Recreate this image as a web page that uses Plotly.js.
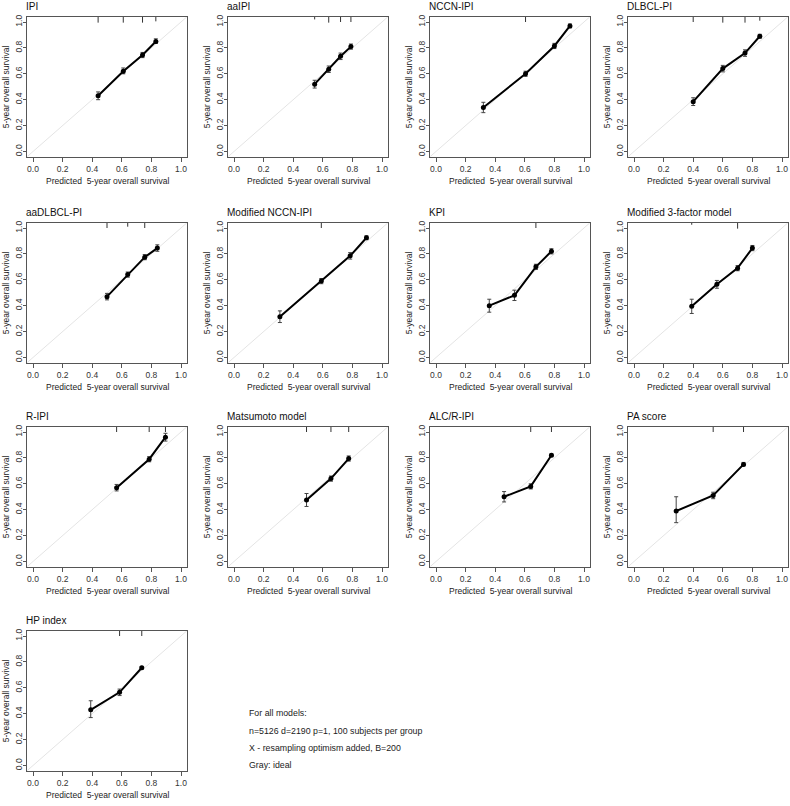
<!DOCTYPE html>
<html><head><meta charset="utf-8">
<script src="https://cdn.plot.ly/plotly-3.0.1.min.js"></script>
<style>html,body{margin:0;padding:0;background:#fff}#chart{width:790px;height:806px}</style>
</head><body><div id="chart"></div>
<script>
// ---------------- data ----------------
const modelNames = ["IPI","aaIPI","NCCN-IPI","DLBCL-PI","aaDLBCL-PI","Modified NCCN-IPI","KPI",
  "Modified 3-factor model","R-IPI","Matsumoto model","ALC/R-IPI","PA score","HP index"];
const tickVals = [0, 0.2, 0.4, 0.6, 0.8, 1.0];
const tickLabels = ["0.0","0.2","0.4","0.6","0.8","1.0"];
const xTitle = "Predicted  5-year overall survival";
const yTitle = "5-year overall survival";
const noteLines = ["For all models:", "n=5126 d=2190 p=1, 100 subjects per group",
  "X - resampling optimism added, B=200", "Gray: ideal"];

const ipiPred = [0.44, 0.61, 0.74, 0.83];
const ipiObs  = [0.43, 0.62, 0.745, 0.85];
const ipiLo   = [0.40, 0.60, 0.725, 0.835];
const ipiHi   = [0.46, 0.645, 0.765, 0.87];
const ipiRug  = [0.44, 0.61, 0.74, 0.83];
const ipiRugLen = [0.045, 0.045, 0.045, 0.035];

const aaipiPred = [0.545, 0.64, 0.72, 0.79];
const aaipiObs  = [0.52, 0.635, 0.735, 0.81];
const aaipiLo   = [0.49, 0.61, 0.71, 0.79];
const aaipiHi   = [0.55, 0.66, 0.76, 0.83];
const aaipiRug  = [0.545, 0.64, 0.72, 0.79];
const aaipiRugLen = [0.02, 0.045, 0.04, 0.04];

const nccnPred = [0.32, 0.605, 0.80, 0.905];
const nccnObs  = [0.34, 0.60, 0.815, 0.97];
const nccnLo   = [0.30, 0.58, 0.795, 0.955];
const nccnHi   = [0.38, 0.62, 0.835, 0.985];
const nccnRug  = [0.605];
const nccnRugLen = [0.04];

const dlbclPred = [0.40, 0.60, 0.75, 0.85];
const dlbclObs  = [0.385, 0.64, 0.76, 0.89];
const dlbclLo   = [0.355, 0.615, 0.735, 0.875];
const dlbclHi   = [0.415, 0.665, 0.785, 0.905];
const dlbclRug  = [0.40, 0.60, 0.75, 0.85];
const dlbclRugLen = [0.04, 0.045, 0.045, 0.03];

const aadlbclPred = [0.50, 0.64, 0.755, 0.84];
const aadlbclObs  = [0.47, 0.64, 0.775, 0.845];
const aadlbclLo   = [0.445, 0.62, 0.755, 0.82];
const aadlbclHi   = [0.495, 0.66, 0.795, 0.87];
const aadlbclRug  = [0.50, 0.64, 0.755];
const aadlbclRugLen = [0.04, 0.03, 0.04];

const mnccnPred = [0.31, 0.59, 0.785, 0.895];
const mnccnObs  = [0.315, 0.59, 0.785, 0.925];
const mnccnLo   = [0.27, 0.57, 0.76, 0.91];
const mnccnHi   = [0.36, 0.61, 0.81, 0.94];
const mnccnRug  = [0.59];
const mnccnRugLen = [0.04];

const kpiPred = [0.36, 0.53, 0.675, 0.78];
const kpiObs  = [0.40, 0.48, 0.70, 0.82];
const kpiLo   = [0.35, 0.44, 0.68, 0.80];
const kpiHi   = [0.45, 0.52, 0.72, 0.84];
const kpiRug  = [0.675];
const kpiRugLen = [0.04];

const m3fPred = [0.39, 0.56, 0.70, 0.80];
const m3fObs  = [0.395, 0.565, 0.69, 0.845];
const m3fLo   = [0.34, 0.535, 0.67, 0.825];
const m3fHi   = [0.45, 0.595, 0.71, 0.865];
const m3fRug  = [0.39, 0.70];
const m3fRugLen = [0.015, 0.045];

const ripiPred = [0.565, 0.785, 0.895];
const ripiObs  = [0.57, 0.79, 0.96];
const ripiLo   = [0.545, 0.77, 0.93];
const ripiHi   = [0.595, 0.81, 0.99];
const ripiRug  = [0.565, 0.785, 0.895];
const ripiRugLen = [0.04, 0.04, 0.04];

const matsuPred = [0.49, 0.655, 0.775];
const matsuObs  = [0.475, 0.64, 0.795];
const matsuLo   = [0.425, 0.62, 0.775];
const matsuHi   = [0.525, 0.66, 0.815];
const matsuRug  = [0.49, 0.655, 0.775];
const matsuRugLen = [0.04, 0.04, 0.04];

const alcPred = [0.46, 0.64, 0.78];
const alcObs  = [0.50, 0.58, 0.82];
const alcLo   = [0.46, 0.56, 0.81];
const alcHi   = [0.54, 0.60, 0.83];
const alcRug  = [0.64, 0.78];
const alcRugLen = [0.04, 0.04];

const paPred = [0.285, 0.535, 0.74];
const paObs  = [0.39, 0.51, 0.75];
const paLo   = [0.30, 0.485, 0.74];
const paHi   = [0.50, 0.535, 0.765];
const paRug  = [0.535, 0.74];
const paRugLen = [0.04, 0.04];

const hpPred = [0.39, 0.585, 0.735];
const hpObs  = [0.43, 0.565, 0.755];
const hpLo   = [0.37, 0.54, 0.745];
const hpHi   = [0.50, 0.59, 0.765];
const hpRug  = [0.585, 0.735];
const hpRugLen = [0.04, 0.04];

const panelData = [
  [ipiPred, ipiObs, ipiLo, ipiHi, ipiRug, ipiRugLen],
  [aaipiPred, aaipiObs, aaipiLo, aaipiHi, aaipiRug, aaipiRugLen],
  [nccnPred, nccnObs, nccnLo, nccnHi, nccnRug, nccnRugLen],
  [dlbclPred, dlbclObs, dlbclLo, dlbclHi, dlbclRug, dlbclRugLen],
  [aadlbclPred, aadlbclObs, aadlbclLo, aadlbclHi, aadlbclRug, aadlbclRugLen],
  [mnccnPred, mnccnObs, mnccnLo, mnccnHi, mnccnRug, mnccnRugLen],
  [kpiPred, kpiObs, kpiLo, kpiHi, kpiRug, kpiRugLen],
  [m3fPred, m3fObs, m3fLo, m3fHi, m3fRug, m3fRugLen],
  [ripiPred, ripiObs, ripiLo, ripiHi, ripiRug, ripiRugLen],
  [matsuPred, matsuObs, matsuLo, matsuHi, matsuRug, matsuRugLen],
  [alcPred, alcObs, alcLo, alcHi, alcRug, alcRugLen],
  [paPred, paObs, paLo, paHi, paRug, paRugLen],
  [hpPred, hpObs, hpLo, hpHi, hpRug, hpRugLen]
];

// ---------------- layout geometry ----------------
const W = 790, H = 806;
const colX0 = [33, 234, 436, 634];   // pixel of x = 0
const unitX = 148;
const rowY1 = [22, 228, 432, 636];   // pixel of y = 1
const unitY = 129.5;
const ext = 0.04;
const FONT = "Liberation Sans, Arial, Helvetica, sans-serif";
const boxColor = "#555";

const traces = [];
const layout = {
  width: W, height: H, margin: {l: 0, r: 0, t: 0, b: 0},
  paper_bgcolor: "#fff", plot_bgcolor: "#fff", showlegend: false,
  font: {family: FONT, color: "#222"},
  annotations: []
};

modelNames.forEach((name, i) => {
  const [pred, obs, lo, hi, rug, rugLen] = panelData[i];
  const r = Math.floor(i / 4), c = i % 4;
  const sfx = i === 0 ? "" : String(i + 1);
  const xa = "x" + sfx, ya = "y" + sfx;
  const left = colX0[c] - ext * unitX, right = colX0[c] + (1 + ext) * unitX;
  const top = rowY1[r] - ext * unitY, bottom = rowY1[r] + (1 + ext) * unitY;

  const axCommon = {
    range: [-ext, 1 + ext], tickvals: tickVals, ticktext: tickLabels,
    showgrid: false, zeroline: false, showline: true, mirror: true,
    linecolor: boxColor, linewidth: 1, ticks: "outside", ticklen: 4,
    tickcolor: boxColor, tickwidth: 1, ticklabeloverflow: "allow",
    tickfont: {family: FONT, size: 8.5, color: "#333"}, fixedrange: true
  };
  layout["xaxis" + sfx] = Object.assign({}, axCommon, {domain: [left / W, right / W], anchor: ya});
  layout["yaxis" + sfx] = Object.assign({}, axCommon, {domain: [1 - bottom / H, 1 - top / H], anchor: xa,
    tickangle: -90, ticklen: 3, ticklabelstandoff: -2});

  // ideal line
  traces.push({x: [-ext, 1 + ext], y: [-ext, 1 + ext], xaxis: xa, yaxis: ya, mode: "lines",
    line: {color: "#e4e4e4", width: 1}, hoverinfo: "skip"});
  // distribution spikes at top
  const rx = [], ry = [];
  rug.forEach((v, k) => { rx.push(v, v, null); ry.push(1 + ext, 1 + ext - rugLen[k], null); });
  traces.push({x: rx, y: ry, xaxis: xa, yaxis: ya, mode: "lines",
    line: {color: "#333", width: 1}, hoverinfo: "skip"});
  // calibration curve
  traces.push({x: pred, y: obs, xaxis: xa, yaxis: ya, mode: "lines+markers",
    line: {color: "#000", width: 2}, marker: {color: "#000", size: 5},
    error_y: {type: "data", symmetric: false,
      array: obs.map((v, k) => hi[k] - v), arrayminus: obs.map((v, k) => v - lo[k]),
      color: "#444", thickness: 1, width: 2}});

  // panel title
  layout.annotations.push({text: name, xref: "paper", yref: "paper",
    x: (left - 3) / W, y: 1 - (top - 10) / H, xanchor: "left", yanchor: "middle",
    showarrow: false, font: {family: FONT, size: 10, color: "#111"}});
  // x title
  layout.annotations.push({text: xTitle, xref: "paper", yref: "paper",
    x: ((left + right) / 2) / W, y: 1 - (bottom + 24) / H, xanchor: "center", yanchor: "middle",
    showarrow: false, font: {family: FONT, size: 8.5, color: "#222"}});
  // y title
  layout.annotations.push({text: yTitle, xref: "paper", yref: "paper", textangle: -90,
    x: (left - 21.5) / W, y: 1 - ((top + bottom) / 2) / H, xanchor: "center", yanchor: "middle",
    showarrow: false, font: {family: FONT, size: 8.5, color: "#222"}});
});

// note text
const noteY = [713, 731, 748, 765];
noteLines.forEach((t, k) => {
  layout.annotations.push({text: t, xref: "paper", yref: "paper",
    x: 247 / W, y: 1 - noteY[k] / H, xanchor: "left", yanchor: "middle",
    showarrow: false, font: {family: FONT, size: 8.8, color: "#222"}});
});

Plotly.newPlot("chart", traces, layout, {staticPlot: true, displayModeBar: false});
</script>
</body></html>
